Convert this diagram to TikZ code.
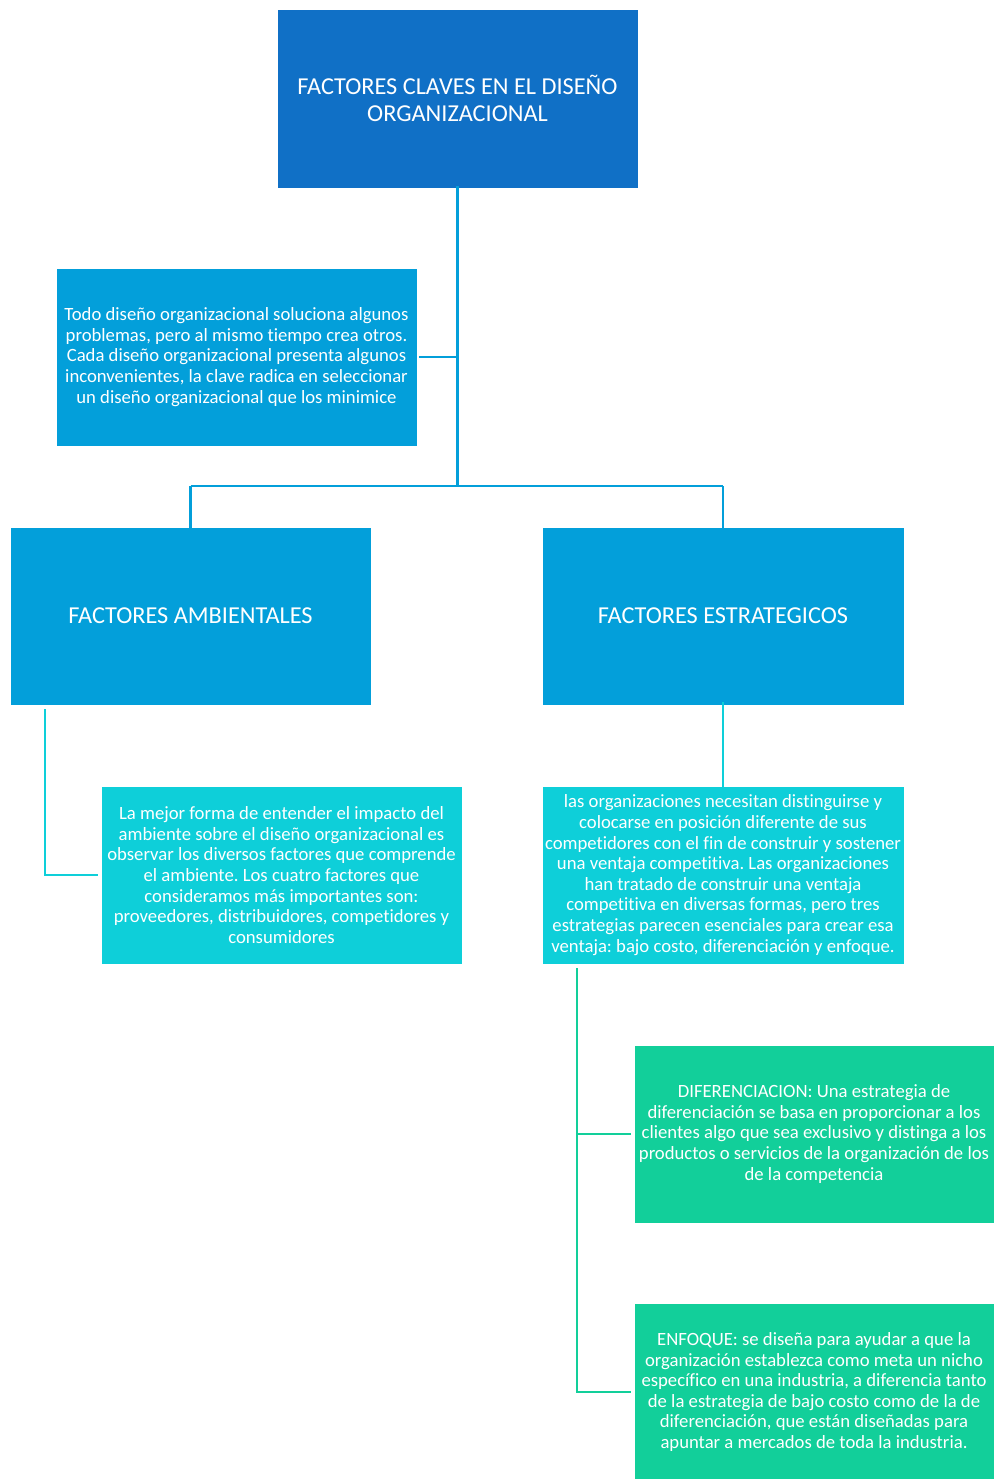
\documentclass[tikz,border=0pt]{standalone}
\usepackage{fontspec}
\setmainfont{Carlito}[Ligatures={NoCommon}]
\frenchspacing
\definecolor{topblue}{RGB}{16,112,198}
\definecolor{midblue}{RGB}{3,159,218}
\definecolor{cyanbox}{RGB}{14,207,217}
\definecolor{greenbox}{RGB}{18,207,154}
\tikzset{
  box/.style={rectangle, draw=white, line width=0.8pt, text=white, align=center, inner sep=0pt, minimum width=361pt, minimum height=178pt},
  smalltxt/.style={font=\fontsize{18.7}{20.6}\selectfont},
  bigtxt/.style={font=\fontsize{24.3}{27}\selectfont},
  connblue/.style={draw=midblue, line width=2.6pt},
  conncyan/.style={draw=cyanbox, line width=2.6pt},
  conngreen/.style={draw=greenbox, line width=2.6pt}
}
\begin{document}
\begin{tikzpicture}[x=1pt,y=-1pt]
\useasboundingbox[fill=white] (0,0) rectangle (995,1479);
\node[box, bigtxt, fill=topblue, minimum height=179pt] (top) at (457.5,98.5) {FACTORES CLAVES EN EL DISEÑO\\ORGANIZACIONAL};
\node[box, smalltxt, fill=midblue] (t1) at (236.5,357) {Todo diseño organizacional soluciona algunos\\problemas, pero al mismo tiempo crea otros.\\Cada diseño organizacional presenta algunos\\inconvenientes, la clave radica en seleccionar\\un diseño organizacional que los minimice};
\node[box, bigtxt, fill=midblue] (amb) at (190.5,616) {FACTORES AMBIENTALES};
\node[box, bigtxt, fill=midblue, minimum width=362pt] (est) at (723,616) {FACTORES ESTRATEGICOS};
\node[box, smalltxt, fill=cyanbox] (ambtext) at (281.5,875) {La mejor forma de entender el impacto del\\ambiente sobre el diseño organizacional es\\observar los diversos factores que comprende\\el ambiente. Los cuatro factores que\\consideramos más importantes son:\\proveedores, distribuidores, competidores y\\consumidores};
\node[box, smalltxt, fill=cyanbox, minimum width=362pt] (esttext) at (723,875) {las organizaciones necesitan distinguirse y\\colocarse en posición diferente de sus\\competidores con el fin de construir y sostener\\una ventaja competitiva. Las organizaciones\\han tratado de construir una ventaja\\competitiva en diversas formas, pero tres\\estrategias parecen esenciales para crear esa\\ventaja: bajo costo, diferenciación y enfoque.};
\node[box, smalltxt, fill=greenbox, minimum width=360pt] (dif) at (814,1134) {DIFERENCIACION: Una estrategia de\\diferenciación se basa en proporcionar a los\\clientes algo que sea exclusivo y distinga a los\\productos o servicios de la organización de los\\de la competencia};
\node[box, smalltxt, fill=greenbox, minimum width=360pt] (enf) at (814,1392) {ENFOQUE: se diseña para ayudar a que la\\organización establezca como meta un nicho\\específico en una industria, a diferencia tanto\\de la estrategia de bajo costo como de la de\\diferenciación, que están diseñadas para\\apuntar a mercados de toda la industria.};
% connectors
\coordinate (bar) at (457.5,486);
\draw[connblue] ([yshift=2pt]top.south) -- (top.south |- bar);
\draw[connblue] ([xshift=2pt]t1.east) -- (top.south |- t1.east);
\draw[connblue] (amb.north |- bar) -- (est.north |- bar);
\draw[connblue] (amb.north |- bar) -- ([yshift=-4pt]amb.north);
\draw[connblue] (est.north |- bar) -- ([yshift=-4pt]est.north);
\coordinate (a1) at (45,709);
\draw[conncyan] (a1) |- ([xshift=-3pt]ambtext.west);
\draw[conncyan] ([yshift=3pt]est.south) -- ([yshift=-4pt]esttext.north);
\coordinate (g1) at (577,968);
\draw[conngreen] (g1) |- ([xshift=-3pt]enf.west);
\draw[conngreen] (g1 |- dif.west) -- ([xshift=-3pt]dif.west);
\end{tikzpicture}
\end{document}
